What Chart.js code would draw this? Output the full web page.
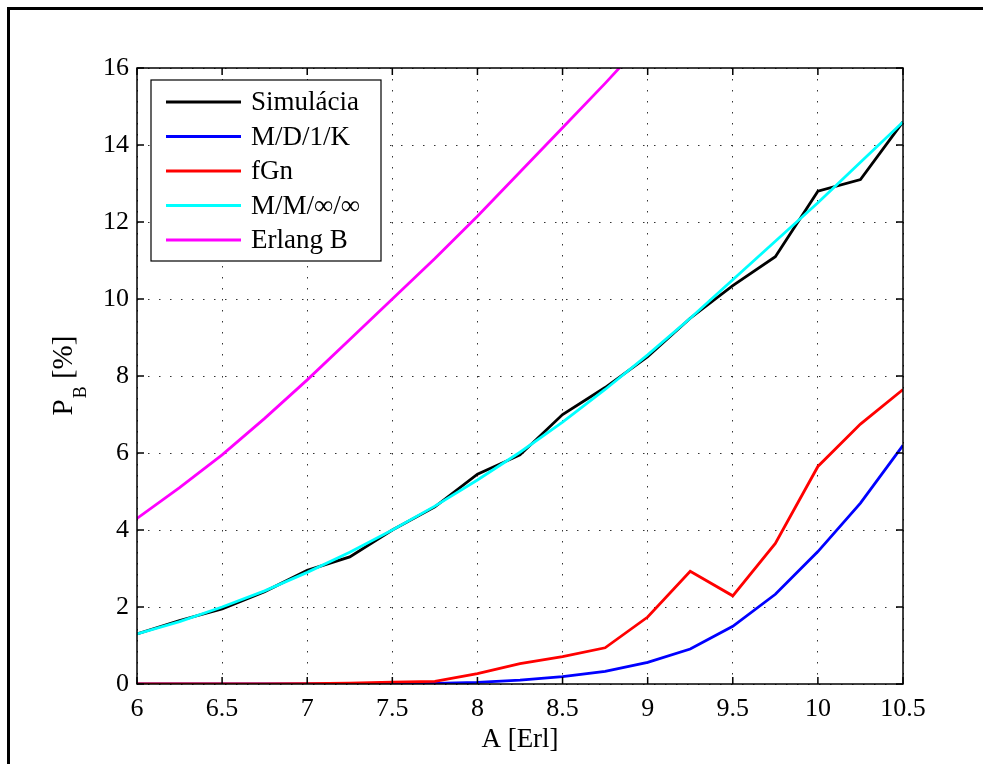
<!DOCTYPE html>
<html>
<head>
<meta charset="utf-8">
<script src="https://cdn.jsdelivr.net/npm/chart.js@4"></script>
<style>
    body { margin: 0; background: #fff; }
    canvas { display: block; }
</style>
</head>
<body>
<canvas id="pbChart" width="983" height="764"></canvas>
<script>
// zataz A [Erl]
const zataz = [6, 6.25, 6.5, 6.75, 7, 7.25, 7.5, 7.75, 8, 8.25, 8.5, 8.75, 9, 9.25, 9.5, 9.75, 10, 10.25, 10.5];

// pravdepodobnost blokovania P_B [%]
const simulacia = [1.3, 1.65, 1.95, 2.4, 2.95, 3.3, 4.0, 4.6, 5.45, 5.95, 7.0, 7.7, 8.5, 9.5, 10.35, 11.1, 12.8, 13.1, 14.6];
const md1k = [0, 0, 0, 0, 0, 0, 0.005, 0.015, 0.04, 0.1, 0.19, 0.33, 0.56, 0.91, 1.5, 2.33, 3.44, 4.7, 6.2];
const fgn = [0, 0, 0, 0.005, 0.01, 0.02, 0.05, 0.07, 0.27, 0.53, 0.71, 0.94, 1.74, 2.93, 2.29, 3.65, 5.65, 6.75, 7.65];
const mmInf = [1.3, 1.62, 2.0, 2.42, 2.9, 3.42, 4.0, 4.62, 5.3, 6.02, 6.8, 7.65, 8.55, 9.5, 10.5, 11.5, 12.5, 13.55, 14.6];
const erlangB = [4.3, 5.1, 5.95, 6.9, 7.9, 8.95, 10.0, 11.05, 12.15, 13.3, 14.45, 15.6, 16.8];

const xTicks = [6, 6.5, 7, 7.5, 8, 8.5, 9, 9.5, 10, 10.5];
const yTicks = [0, 2, 4, 6, 8, 10, 12, 14, 16];

const serif = '"Liberation Serif", "DejaVu Serif", serif';

function body(hodnoty) {
    return hodnoty.map((v, i) => ({ x: zataz[i], y: v }));
}

function seria(label, hodnoty, farba, poradie) {
    return {
        label: label,
        data: body(hodnoty),
        borderColor: farba,
        backgroundColor: farba,
        borderWidth: 2.8,
        pointRadius: 0,
        tension: 0,
        order: poradie
    };
}

// ram okolo obrazku, box osi, vnutorne ciarky, legenda, popis osi y
const kreslenie = {
    id: 'kreslenie',
    beforeDraw(chart) {
        const c = chart.ctx;
        c.save();
        c.fillStyle = '#fff';
        c.fillRect(0, 0, chart.width, chart.height);
        c.strokeStyle = '#000';
        c.lineWidth = 3;
        c.beginPath();
        c.moveTo(8.5, chart.height);
        c.lineTo(8.5, 8.5);
        c.lineTo(chart.width, 8.5);
        c.stroke();
        c.restore();
    },
    afterDraw(chart) {
        const c = chart.ctx;
        const a = chart.chartArea;
        const xs = chart.scales.x;
        const ys = chart.scales.y;
        c.save();
        c.strokeStyle = '#000';
        c.lineWidth = 1.5;
        c.strokeRect(a.left, a.top, a.right - a.left, a.bottom - a.top);

        c.beginPath();
        xTicks.forEach(t => {
            const px = xs.getPixelForValue(t);
            c.moveTo(px, a.bottom); c.lineTo(px, a.bottom - 7);
            c.moveTo(px, a.top); c.lineTo(px, a.top + 7);
        });
        yTicks.forEach(t => {
            const py = ys.getPixelForValue(t);
            c.moveTo(a.left, py); c.lineTo(a.left + 7, py);
            c.moveTo(a.right, py); c.lineTo(a.right - 7, py);
        });
        c.stroke();

        // legenda
        const lx = 151, ly = 80, lw = 230, lh = 181;
        c.fillStyle = '#fff';
        c.fillRect(lx, ly, lw, lh);
        c.lineWidth = 1.2;
        c.strokeRect(lx, ly, lw, lh);
        c.font = '27px ' + serif;
        c.textBaseline = 'middle';
        c.textAlign = 'left';
        chart.data.datasets.forEach((ds, i) => {
            const yy = ly + 22 + i * 34.5;
            c.strokeStyle = ds.borderColor;
            c.lineWidth = 2.8;
            c.beginPath();
            c.moveTo(lx + 15, yy);
            c.lineTo(lx + 90, yy);
            c.stroke();
            c.fillStyle = '#000';
            c.fillText(ds.label, lx + 100, yy + 1);
        });

        // popis osi y: P_B [%]
        c.translate(70, (a.top + a.bottom) / 2);
        c.rotate(-Math.PI / 2);
        c.fillStyle = '#000';
        c.textBaseline = 'alphabetic';
        c.font = '29px ' + serif;
        const wP = c.measureText('P').width;
        c.font = '18px ' + serif;
        const wB = c.measureText('B').width;
        c.font = '29px ' + serif;
        const wR = c.measureText(' [%]').width;
        let x0 = -(wP + wB + wR) / 2;
        c.fillText('P', x0, 2);
        c.font = '18px ' + serif;
        c.fillText('B', x0 + wP + 1, 16);
        c.font = '29px ' + serif;
        c.fillText(' [%]', x0 + wP + wB + 1, 2);
        c.restore();
    }
};

const ctx = document.getElementById('pbChart').getContext('2d');
const pbChart = new Chart(ctx, {
    type: 'line',
    data: {
        datasets: [
            seria('Simulácia', simulacia, '#000000', 5),
            seria('M/D/1/K', md1k, '#0000ff', 4),
            seria('fGn', fgn, '#ff0000', 3),
            seria('M/M/∞/∞', mmInf, '#00ffff', 2),
            seria('Erlang B', erlangB, '#ff00ff', 1)
        ]
    },
    options: {
        responsive: false,
        animation: false,
        layout: { padding: { left: 0, right: 80, top: 68, bottom: 0 } },
        plugins: {
            legend: { display: false },
            tooltip: { enabled: false }
        },
        scales: {
            x: {
                type: 'linear',
                min: 6,
                max: 10.5,
                afterFit: s => { s.height = 80; },
                afterBuildTicks: s => { s.ticks = xTicks.map(v => ({ value: v })); },
                ticks: {
                    color: '#000',
                    font: { family: serif, size: 26 },
                    padding: 10,
                    maxRotation: 0,
                    callback: v => String(v)
                },
                grid: { color: '#333', lineWidth: 1, drawTicks: false },
                border: { display: false, dash: [1.5, 9.5] },
                title: {
                    display: true,
                    text: 'A [Erl]',
                    color: '#000',
                    font: { family: serif, size: 27 },
                    padding: { top: 0, bottom: 8 }
                }
            },
            y: {
                min: 0,
                max: 16,
                afterFit: s => { s.width = 137; },
                afterBuildTicks: s => { s.ticks = yTicks.map(v => ({ value: v })); },
                ticks: {
                    color: '#000',
                    font: { family: serif, size: 26 },
                    padding: 8,
                    callback: v => String(v)
                },
                grid: { color: '#333', lineWidth: 1, drawTicks: false },
                border: { display: false, dash: [1.5, 9.5] }
            }
        }
    },
    plugins: [kreslenie]
});
</script>
</body>
</html>
